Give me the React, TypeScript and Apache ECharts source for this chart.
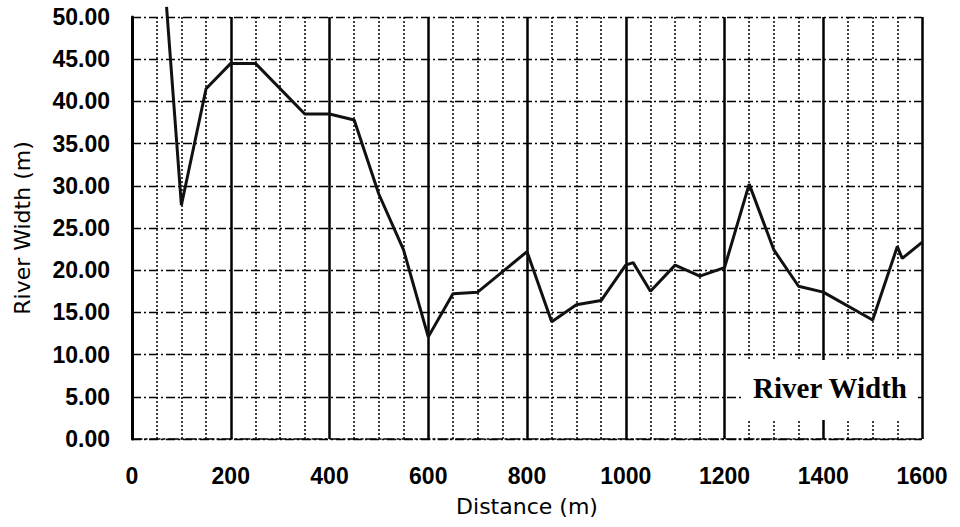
import React, { useEffect, useRef } from "react";
import * as echarts from "echarts";

const distances = [70, 100, 150, 200, 250, 350, 400, 450, 500, 550, 600, 650, 700, 800, 850, 900, 950, 1000, 1015, 1050, 1100, 1150, 1200, 1250, 1300, 1350, 1400, 1500, 1550, 1560, 1600];
const widths = [51.2, 27.7, 41.5, 44.5, 44.5, 38.5, 38.5, 37.8, 29.0, 22.4, 12.1, 17.2, 17.4, 22.2, 13.9, 15.9, 16.4, 20.6, 20.9, 17.5, 20.6, 19.3, 20.3, 30.2, 22.4, 18.1, 17.4, 14.1, 22.8, 21.4, 23.3];
const legendLabel = "River Width";
const xName = "Distance (m)";
const yName = "River Width (m)";

export default function App() {
  const ref = useRef<HTMLDivElement>(null);
  useEffect(() => {
    if (!ref.current) return;
    const chart = echarts.init(ref.current, null, { renderer: "svg" });
    const data = distances.map((d, i) => [d, widths[i]]);
    chart.setOption({
      animation: false,
      backgroundColor: "#fff",
      grid: { left: 132, right: 38, top: 17, bottom: 88, containLabel: false },
      xAxis: {
        type: "value",
        min: 0,
        max: 1600,
        interval: 200,
        name: xName,
        nameLocation: "middle",
        nameGap: 56,
        nameTextStyle: { fontFamily: "DejaVu Sans", fontSize: 22, color: "#000" },
        axisLine: { show: true, lineStyle: { color: "#000", width: 1.5, type: [10, 3, 2, 3] } },
        axisTick: { show: false },
        axisLabel: {
          fontFamily: "Liberation Sans",
          fontWeight: "bold",
          fontSize: 23,
          color: "#000",
          margin: 25,
          formatter: (v: number) => String(v),
        },
        splitLine: { show: true, lineStyle: { color: "#000", width: 2.5, type: "solid" } },
        minorTick: { show: false, splitNumber: 4 },
        minorSplitLine: { show: true, lineStyle: { color: "#000", width: 1.5, type: [2, 2] } },
      },
      yAxis: {
        type: "value",
        min: 0,
        max: 50,
        interval: 5,
        name: yName,
        nameLocation: "middle",
        nameGap: 99,
        nameRotate: 90,
        nameTextStyle: { fontFamily: "DejaVu Sans", fontSize: 22, color: "#000" },
        axisLine: { show: true, lineStyle: { color: "#000", width: 3 } },
        axisTick: { show: false },
        axisLabel: {
          fontFamily: "Liberation Sans",
          fontWeight: "bold",
          fontSize: 23,
          color: "#000",
          margin: 22,
          formatter: (v: number) => v.toFixed(2),
        },
        splitLine: { show: true, lineStyle: { color: "#000", width: 1.4, type: [9, 3, 2, 3] } },
      },
      graphic: [
        {
          type: "rect",
          z: 5,
          shape: { x: 742, y: 360, width: 176, height: 60 },
          style: { fill: "#fff" },
        },
        {
          type: "text",
          z: 6,
          x: 830,
          y: 388,
          style: {
            text: legendLabel,
            fontFamily: "Liberation Serif",
            fontWeight: "bold",
            fontSize: 29,
            fill: "#000",
            align: "center",
            verticalAlign: "middle",
          },
        },
      ],
      series: [
        {
          type: "line",
          data,
          clip: false,
          showSymbol: false,
          symbol: "none",
          lineStyle: { color: "#111", width: 3 },
          z: 3,
        },
      ],
    });
    return () => chart.dispose();
  }, []);
  return <div ref={ref} style={{ position: "fixed", left: 0, top: 0, width: 960, height: 527 }} />;
}
